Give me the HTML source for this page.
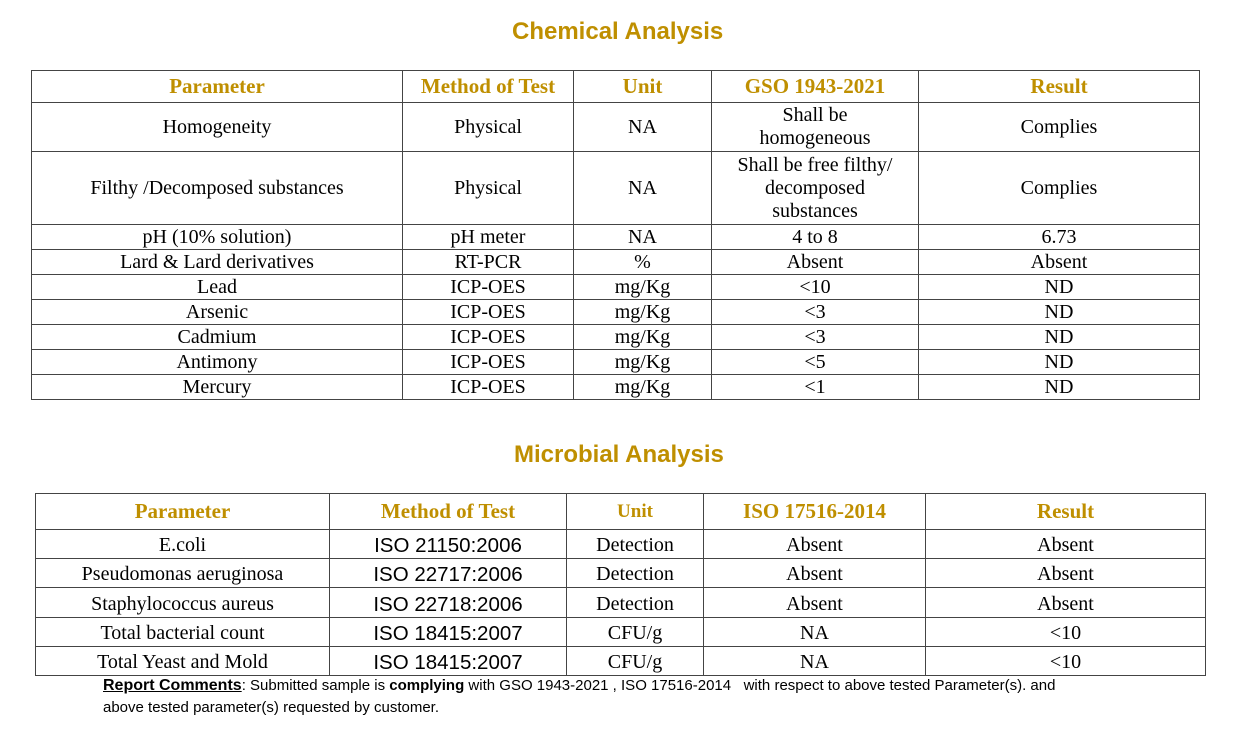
<!DOCTYPE html>
<html><head><meta charset="utf-8"><style>
body{margin:0;width:1241px;height:734px;background:#fff;position:relative;overflow:hidden;font-family:"Liberation Serif",serif;color:#000}
.t{position:absolute;font-family:"Liberation Sans",sans-serif;font-weight:bold;color:#bf8f00;font-size:24px;white-space:nowrap}
table{position:absolute;border-collapse:collapse;table-layout:fixed}
td{border:1px solid #444;padding:0;text-align:center;vertical-align:middle;font-size:20px;line-height:23px}
th{border:1px solid #444;padding:0;text-align:center;vertical-align:middle;font-size:21px;color:#bf8f00;font-weight:bold}
.m td{padding-top:3px}
.s{font-family:"Liberation Sans",sans-serif;font-size:20.5px}
.c{position:absolute;left:103px;font-family:"Liberation Sans",sans-serif;font-size:15px;line-height:22px;white-space:nowrap}
</style></head><body>
<div class="t" style="left:512px;top:18px">Chemical Analysis</div>
<table style="left:31px;top:70px;width:1169px">
<colgroup><col style="width:371px"><col style="width:171px"><col style="width:138px"><col style="width:207px"><col style="width:281px"></colgroup>
<tr style="height:32px"><th>Parameter</th><th>Method of Test</th><th>Unit</th><th>GSO 1943-2021</th><th>Result</th></tr>
<tr style="height:49px"><td>Homogeneity</td><td>Physical</td><td>NA</td><td>Shall be<br>homogeneous</td><td>Complies</td></tr>
<tr style="height:73px"><td>Filthy /Decomposed substances</td><td>Physical</td><td>NA</td><td>Shall be free filthy/<br>decomposed<br>substances</td><td>Complies</td></tr>
<tr style="height:25px"><td>pH (10% solution)</td><td>pH meter</td><td>NA</td><td>4 to 8</td><td>6.73</td></tr>
<tr style="height:25px"><td>Lard &amp; Lard derivatives</td><td>RT-PCR</td><td>%</td><td>Absent</td><td>Absent</td></tr>
<tr style="height:25px"><td>Lead</td><td>ICP-OES</td><td>mg/Kg</td><td>&lt;10</td><td>ND</td></tr>
<tr style="height:25px"><td>Arsenic</td><td>ICP-OES</td><td>mg/Kg</td><td>&lt;3</td><td>ND</td></tr>
<tr style="height:25px"><td>Cadmium</td><td>ICP-OES</td><td>mg/Kg</td><td>&lt;3</td><td>ND</td></tr>
<tr style="height:25px"><td>Antimony</td><td>ICP-OES</td><td>mg/Kg</td><td>&lt;5</td><td>ND</td></tr>
<tr style="height:25px"><td>Mercury</td><td>ICP-OES</td><td>mg/Kg</td><td>&lt;1</td><td>ND</td></tr>
</table>
<div class="t" style="left:514px;top:441px">Microbial Analysis</div>
<table class="m" style="left:35px;top:493px;width:1171px">
<colgroup><col style="width:294px"><col style="width:237px"><col style="width:137px"><col style="width:222px"><col style="width:280px"></colgroup>
<tr style="height:36px"><th>Parameter</th><th>Method of Test</th><th style="font-size:19px">Unit</th><th>ISO 17516-2014</th><th>Result</th></tr>
<tr style="height:29px"><td>E.coli</td><td class="s">ISO 21150:2006</td><td>Detection</td><td>Absent</td><td>Absent</td></tr>
<tr style="height:29px"><td>Pseudomonas aeruginosa</td><td class="s">ISO 22717:2006</td><td>Detection</td><td>Absent</td><td>Absent</td></tr>
<tr style="height:30px"><td>Staphylococcus aureus</td><td class="s">ISO 22718:2006</td><td>Detection</td><td>Absent</td><td>Absent</td></tr>
<tr style="height:29px"><td>Total bacterial count</td><td class="s">ISO 18415:2007</td><td>CFU/g</td><td>NA</td><td>&lt;10</td></tr>
<tr style="height:29px"><td>Total Yeast and Mold</td><td class="s">ISO 18415:2007</td><td>CFU/g</td><td>NA</td><td>&lt;10</td></tr>
</table>
<div class="c" style="top:675px"><b style="text-decoration:underline;font-size:16px">Report Comments</b>: Submitted sample is <b>complying</b> with GSO 1943-2021 , ISO 17516-2014&nbsp;&nbsp; with respect to above tested Parameter(s). and</div>
<div class="c" style="top:697px">above tested parameter(s) requested by customer.</div>
</body></html>
